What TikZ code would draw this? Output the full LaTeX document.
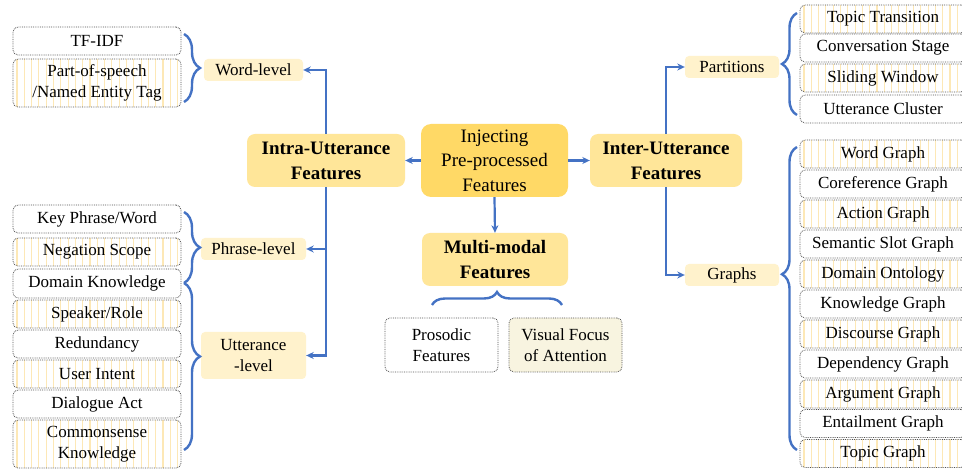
\documentclass[tikz,border=0pt]{standalone}
\usepackage{fontspec}
\setmainfont{Liberation Serif}
\usetikzlibrary{arrows.meta,decorations.pathreplacing,calc}
\definecolor{blueline}{HTML}{4472C4}
\definecolor{goldfill}{HTML}{FFD966}
\definecolor{hdrfill}{HTML}{FFE699}
\definecolor{lblfill}{HTML}{FFF2CC}
\definecolor{creamfill}{HTML}{F8F4E0}
\definecolor{stripecol}{HTML}{FDE8B6}
\definecolor{bordercol}{HTML}{505050}
\newcommand\fsn{\fontsize{17}{21}\selectfont}
\newcommand\fsc{\fontsize{19}{24.5}\selectfont}
\newcommand\fsb{\fontsize{19}{25}\selectfont\bfseries}
\begin{document}
\begin{tikzpicture}[x=1pt,y=-1pt,
  leaf/.style={draw=bordercol, densely dotted, line width=0.8pt, rounded corners=5pt, fill=white,
    minimum width=168pt, minimum height=28pt, inner sep=0pt, align=center, font=\fsn},
  rleaf/.style={leaf, minimum width=166pt},
  stripes/.style={path picture={
    \foreach \k in {0,...,24}{
      \draw[stripecol, solid, line width=1.1pt]
        ([xshift={4pt+\k*7.3pt}]path picture bounding box.south west) --
        ([xshift={4pt+\k*7.3pt}]path picture bounding box.north west);
    }}},
  hdrbox/.style={fill=hdrfill, rounded corners=8pt, inner sep=0pt, align=center, font=\fsb},
  lab/.style={fill=lblfill, rounded corners=4pt, inner sep=0pt, align=center, font=\fsn},
  arr/.style={draw=blueline, line width=2.2pt, -{Stealth[length=7.5pt,width=7pt]}},
  brc/.style={draw=blueline, line width=2.4pt, decorate, decoration={brace, amplitude=16pt}}
]
\clip (0,0) rectangle (962,470);
\fill[white] (0,0) rectangle (962,470);

% central and headers
\node[hdrbox, fill=goldfill, minimum width=147pt, minimum height=73pt, rounded corners=10pt, font=\fsc] (center) at (494.5,160.5) {Injecting\\Pre-processed\\Features};
\node[hdrbox, minimum width=158pt, minimum height=53pt] (intra) at (326,160.5) {Intra-Utterance\\Features};
\node[hdrbox, minimum width=152pt, minimum height=53pt] (inter) at (666,160.5) {Inter-Utterance\\Features};
\node[hdrbox, minimum width=146pt, minimum height=53pt] (mm) at (495,259.5) {Multi-modal\\Features};

% level labels
\node[lab, minimum width=99pt, minimum height=22pt] (word) at (253.5,70) {Word-level};
\node[lab, minimum width=105pt, minimum height=22pt] (phrase) at (253.5,249) {Phrase-level};
\node[lab, minimum width=105pt, minimum height=47pt] (utt) at (253.5,355.5) {Utterance\\-level};
\node[lab, minimum width=94pt, minimum height=22pt] (part) at (732,67) {Partitions};
\node[lab, minimum width=94pt, minimum height=22pt] (graphs) at (732,275) {Graphs};

% left leaves
\node[leaf] (tfidf) at (97,41) {TF-IDF};
\node[leaf, stripes, minimum height=48pt] (pos) at (97,83) {Part-of-speech\\/Named Entity Tag};
\node[leaf] (key) at (97,219) {Key Phrase/Word};
\node[leaf, stripes] (neg) at (97,252) {Negation Scope};
\node[leaf, minimum height=29pt] (dom) at (97,283.5) {Domain Knowledge};
\node[leaf, stripes] (spk) at (97,314) {Speaker/Role};
\node[leaf] (red) at (97,344) {Redundancy};
\node[leaf, stripes] (ui) at (97,374) {User Intent};
\node[leaf] (da) at (97,404) {Dialogue Act};
\node[leaf, stripes, minimum height=48pt] (cs) at (97,444) {Commonsense\\Knowledge};

% right leaves: partitions
\node[rleaf, stripes] (tt) at (883,19) {Topic Transition};
\node[rleaf] (cst) at (883,48) {Conversation Stage};
\node[rleaf, stripes] (sw) at (883,78) {Sliding Window};
\node[rleaf] (uc) at (883,109) {Utterance Cluster};

% right leaves: graphs
\node[rleaf, stripes] (g1) at (883,154) {Word Graph};
\node[rleaf] (g2) at (883,184) {Coreference Graph};
\node[rleaf, stripes] (g3) at (883,214) {Action Graph};
\node[rleaf] (g4) at (883,244) {Semantic Slot Graph};
\node[rleaf, stripes] (g5) at (883,274) {Domain Ontology};
\node[rleaf] (g6) at (883,304) {Knowledge Graph};
\node[rleaf, stripes] (g7) at (883,334) {Discourse Graph};
\node[rleaf] (g8) at (883,364) {Dependency Graph};
\node[rleaf, stripes] (g9) at (883,394) {Argument Graph};
\node[rleaf] (g10) at (883,423.5) {Entailment Graph};
\node[rleaf, stripes] (g11) at (883,453.5) {Topic Graph};

% multimodal leaves
\node[leaf, minimum width=113pt, minimum height=54pt] (pros) at (441.5,345) {Prosodic\\Features};
\node[leaf, fill=creamfill, minimum width=113pt, minimum height=54pt] (vis) at (565.5,345) {Visual Focus\\of Attention};

% arrows
\draw[arr] (center.west) -- (intra.east);
\draw[arr] (center.east) -- (inter.west);
\draw[arr] (center.south) -- (mm.north);
\draw[arr] (intra.north) |- (word.east);
\draw[arr] (intra.south) |- (utt.east);
\draw[arr] (intra.south |- phrase.east) -- (phrase.east);
\draw[arr] (inter.north) |- (part.west);
\draw[arr] (inter.south) |- (graphs.west);

% braces
\coordinate (wb1) at (184,34);  \coordinate (wb2) at (184,102);
\coordinate (pb1) at (184,212); \coordinate (pb2) at (184,283);
\coordinate (ub1) at (184,283); \coordinate (ub2) at (184,450);
\coordinate (qb1) at (797,115); \coordinate (qb2) at (797,13);
\coordinate (gb1) at (797,450); \coordinate (gb2) at (797,147);
\coordinate (mb1) at (432,305); \coordinate (mb2) at (562,305);
\draw[brc] (wb1) -- (wb2);
\draw[brc] (pb1) -- (pb2);
\draw[brc, decoration={brace, amplitude=16pt, aspect=0.44}] (ub1) -- (ub2);
\draw[brc, decoration={brace, amplitude=15pt}] (qb1) -- (qb2);
\draw[brc, decoration={brace, amplitude=15pt, aspect=0.58}] (gb1) -- (gb2);
\draw[brc, decoration={brace, amplitude=13pt}] (mb1) -- (mb2);
\end{tikzpicture}
\end{document}
